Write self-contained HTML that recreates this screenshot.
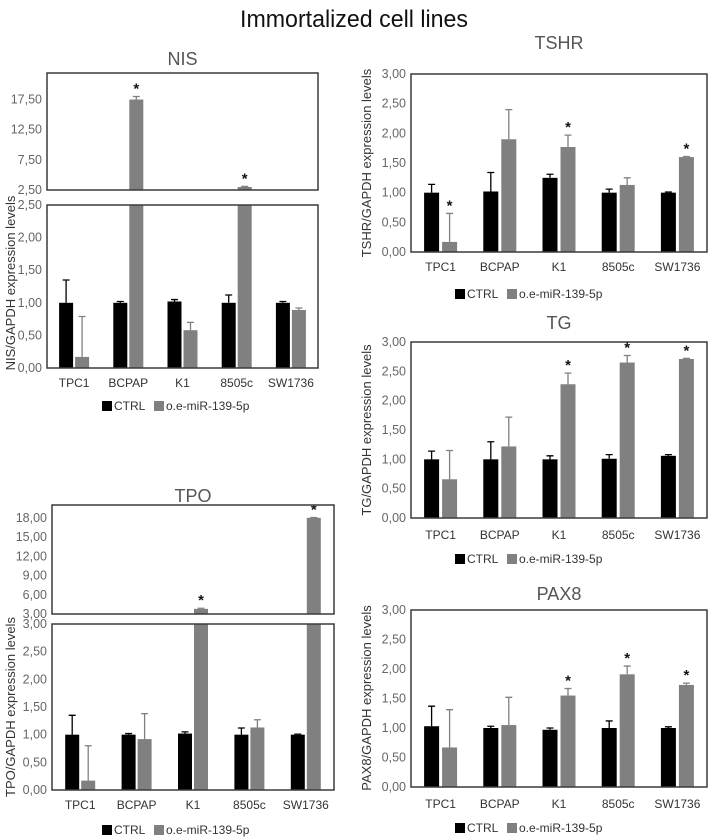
<!DOCTYPE html>
<html><head><meta charset="utf-8"><style>
html,body{margin:0;padding:0;background:#fff;}
svg{display:block;font-family:"Liberation Sans",sans-serif;}
</style></head><body>
<svg id="fig" width="708" height="839" viewBox="0 0 708 839" xmlns="http://www.w3.org/2000/svg">
<text x="354" y="27" text-anchor="middle" font-size="24" textLength="228" lengthAdjust="spacingAndGlyphs" fill="#111">Immortalized cell lines</text>
</svg>
<script>
const categories = ["TPC1","BCPAP","K1","8505c","SW1736"];
const nisCtrl = [1.0,1.0,1.02,1.0,1.0];
const nisCtrlErr = [0.35,0.02,0.03,0.12,0.02];
const nisOe = [0.17,17.5,0.58,3.0,0.89];
const nisOeErr = [0.62,0.5,0.12,0.1,0.03];
const nisStars = [false,true,false,true,false];
const tshrCtrl = [1.0,1.02,1.25,1.0,1.0];
const tshrCtrlErr = [0.14,0.32,0.06,0.06,0.01];
const tshrOe = [0.17,1.9,1.77,1.13,1.6];
const tshrOeErr = [0.48,0.5,0.2,0.12,0.01];
const tshrStars = [true,false,true,false,true];
const tgCtrl = [1.0,1.0,1.0,1.01,1.06];
const tgCtrlErr = [0.14,0.3,0.06,0.07,0.02];
const tgOe = [0.66,1.22,2.28,2.65,2.71];
const tgOeErr = [0.49,0.5,0.19,0.12,0.01];
const tgStars = [false,false,true,true,true];
const tpoCtrl = [1.0,1.0,1.02,1.0,1.0];
const tpoCtrlErr = [0.35,0.02,0.03,0.12,0.01];
const tpoOe = [0.17,0.92,3.8,1.13,18.0];
const tpoOeErr = [0.63,0.46,0.1,0.14,0.05];
const tpoStars = [false,false,true,false,true];
const pax8Ctrl = [1.03,1.0,0.97,1.0,1.0];
const pax8CtrlErr = [0.34,0.03,0.03,0.12,0.02];
const pax8Oe = [0.67,1.05,1.55,1.91,1.73];
const pax8OeErr = [0.64,0.47,0.12,0.14,0.03];
const pax8Stars = [false,false,true,true,true];
const ticks3 = ["0,00","0,50","1,00","1,50","2,00","2,50","3,00"];
const tick3Vals = [0,0.5,1,1.5,2,2.5,3];
const nisTopTickVals = [2.5,7.5,12.5,17.5];
const nisTopTicks = ["2,50","7,50","12,50","17,50"];
const nisLowTickVals = [0,0.5,1,1.5,2,2.5];
const nisLowTicks = ["0,00","0,50","1,00","1,50","2,00","2,50"];
const tpoTopTickVals = [3,6,9,12,15,18];
const tpoTopTicks = ["3,00","6,00","9,00","12,00","15,00","18,00"];

const NS="http://www.w3.org/2000/svg";
const svg=document.getElementById('fig');
function mk(tag,attrs,parent){const e=document.createElementNS(NS,tag);for(const k in attrs)e.setAttribute(k,attrs[k]);(parent||svg).appendChild(e);return e;}

function panel(p){
  const g=mk('g',{});
  
  
  const t=mk('text',{x:(p.x0+p.x1)/2,y:p.titleY,'text-anchor':'middle','font-size':18,fill:'#555'},g);
  t.textContent=p.title;
  
  
  const n=categories.length, step=(p.x1-p.x0)/n;
  p.segs.forEach((s,si)=>{
    const y=v=>s.bot-(v-s.lo)/(s.hi-s.lo)*(s.bot-s.top);
    s.tickVals.forEach((tv,i)=>{
      const tx=mk('text',{x:p.x0-5,y:y(tv)+4,'text-anchor':'end','font-size':12.5,fill:'#666'},g);
      tx.textContent=s.ticks[i];
      
      
    });
    const clipId=p.key+'clip'+si;
    const cp=mk('clipPath',{id:clipId},g);
    mk('rect',{x:p.x0,y:s.top,width:p.x1-p.x0,height:s.bot-s.top},cp);
    const series=[[p.ctrl,p.ctrlErr,'#000'],[p.oe,p.oeErr,'#808080']];
    for(let i=0;i<n;i++){
      const cx=p.x0+step*(i+0.5);
      series.forEach((sr,k)=>{
        const v=sr[0][i], e=sr[1][i];
        const bx=k===0?cx-p.gap/2-p.bw:cx+p.gap/2;
        if(v<=s.lo) return;
        const top=y(Math.min(v,s.hi+1e6));
        const r=mk('rect',{x:bx,y:Math.max(top,s.top-1),width:p.bw,height:s.bot-Math.max(top,s.top-1),fill:sr[2],'clip-path':'url(#'+clipId+')'},g);
        
        
        if(v>s.lo && v<=s.hi){
          const ex=bx+p.bw/2, ey=y(v+e);
          const l=mk('path',{d:`M${ex},${y(v)}V${ey}M${ex-3.5},${ey}H${ex+3.5}`,stroke:sr[2],'stroke-width':1.3,fill:'none'},g);
          
          
          if(k===1 && p.stars[i]){
            const st=mk('text',{x:ex,y:ey-3,'text-anchor':'middle','font-size':15,'font-weight':'bold',fill:'#111'},g);
            st.textContent='*';
            
            
          }
        }
      });
    }
    const b=mk('rect',{x:p.x0,y:s.top,width:p.x1-p.x0,height:s.bot-s.top,fill:'none',stroke:'#3a3a3a','stroke-width':1.5},g);
    
    
  });
  categories.forEach((c,i)=>{
    const tx=mk('text',{x:p.x0+step*(i+0.5),y:p.labY,'text-anchor':'middle','font-size':12,fill:'#333'},g);
    tx.textContent=c;
    
    
  });
  const yl=mk('text',{x:0,y:0,'text-anchor':'middle','font-size':13,fill:'#333',transform:`translate(${p.ylX},${p.ylY}) rotate(-90)`},g);
  yl.textContent=p.title+'/GAPDH expression levels';
  
  
  const lg=mk('g',{},g);
  
  
  const lx=p.legX-78, ly=p.legY;
  mk('rect',{x:lx,y:ly-9,width:10,height:10,fill:'#000'},lg);
  const t1=mk('text',{x:lx+12,y:ly,'font-size':12,fill:'#333'},lg);t1.textContent='CTRL';
  mk('rect',{x:lx+52,y:ly-9,width:10,height:10,fill:'#808080'},lg);
  const t2=mk('text',{x:lx+64,y:ly,'font-size':12,fill:'#333'},lg);t2.textContent='o.e-miR-139-5p';
}

panel({key:'nis',title:'NIS',x0:47,x1:318,titleY:65,labY:387,legX:180,legY:410,ylX:15,ylY:283,bw:14,gap:2,
  ctrl:nisCtrl,ctrlErr:nisCtrlErr,oe:nisOe,oeErr:nisOeErr,stars:nisStars,
  segs:[{lo:2.5,hi:21.9,top:73,bot:190,tickVals:nisTopTickVals,ticks:nisTopTicks},
        {lo:0,hi:2.5,top:205,bot:368,tickVals:nisLowTickVals,ticks:nisLowTicks}]});
panel({key:'tshr',title:'TSHR',x0:411,x1:707,titleY:49,labY:271,legX:533,legY:298,ylX:371,ylY:163,bw:15,gap:3,
  ctrl:tshrCtrl,ctrlErr:tshrCtrlErr,oe:tshrOe,oeErr:tshrOeErr,stars:tshrStars,
  segs:[{lo:0,hi:3,top:74,bot:252,tickVals:tick3Vals,ticks:ticks3}]});
panel({key:'tg',title:'TG',x0:411,x1:707,titleY:329,labY:539,legX:533,legY:563,ylX:371,ylY:430,bw:15,gap:3,
  ctrl:tgCtrl,ctrlErr:tgCtrlErr,oe:tgOe,oeErr:tgOeErr,stars:tgStars,
  segs:[{lo:0,hi:3,top:342,bot:518,tickVals:tick3Vals,ticks:ticks3}]});
panel({key:'pax8',title:'PAX8',x0:411,x1:707,titleY:600,labY:808,legX:533,legY:832,ylX:371,ylY:698,bw:15,gap:3,
  ctrl:pax8Ctrl,ctrlErr:pax8CtrlErr,oe:pax8Oe,oeErr:pax8OeErr,stars:pax8Stars,
  segs:[{lo:0,hi:3,top:610,bot:787,tickVals:tick3Vals,ticks:ticks3}]});
panel({key:'tpo',title:'TPO',x0:52,x1:334,titleY:502,labY:809,legX:180,legY:834,ylX:15,ylY:707,bw:14,gap:2,
  ctrl:tpoCtrl,ctrlErr:tpoCtrlErr,oe:tpoOe,oeErr:tpoOeErr,stars:tpoStars,
  segs:[{lo:3,hi:20,top:505,bot:614,tickVals:tpoTopTickVals,ticks:tpoTopTicks},
        {lo:0,hi:3,top:624,bot:790,tickVals:tick3Vals,ticks:ticks3}]});
</script>
</body></html>
